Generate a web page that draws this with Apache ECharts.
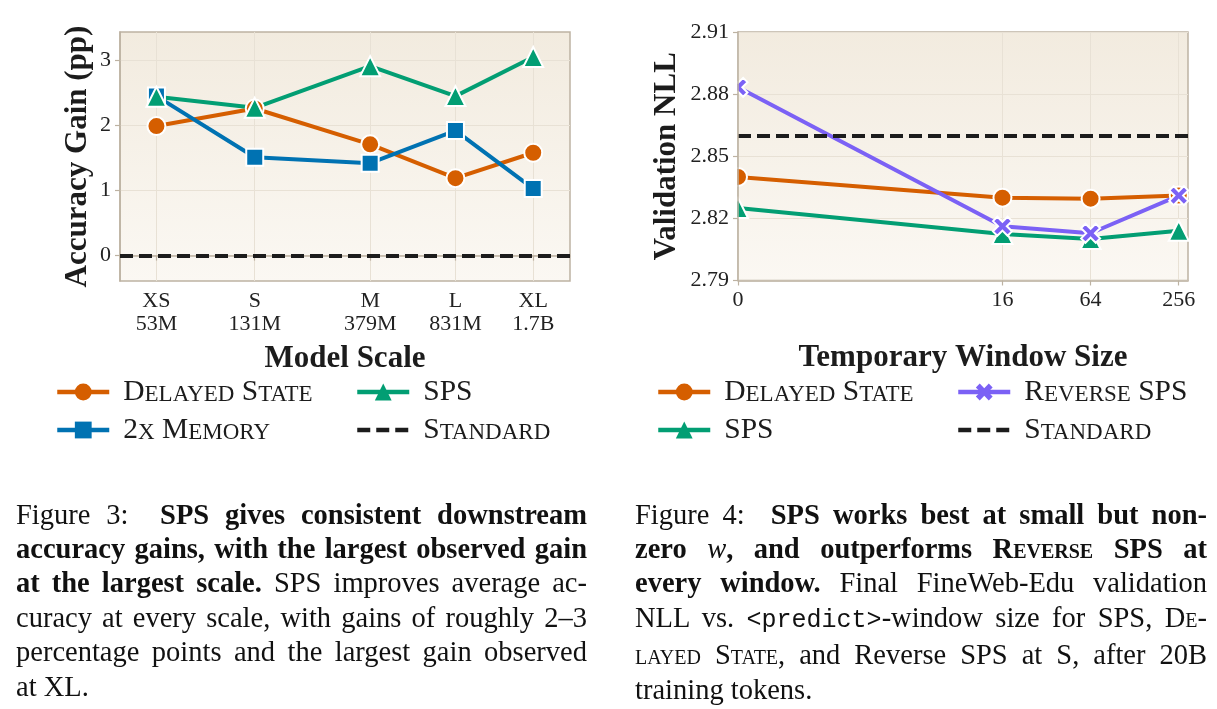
<!DOCTYPE html>
<html>
<head>
<meta charset="utf-8">
<script src="https://cdn.jsdelivr.net/npm/echarts@6/dist/echarts.min.js"></script>
<style>
html,body{margin:0;padding:0;background:#fff;width:1217px;height:709px;overflow:hidden;}
#chart{position:absolute;left:0;top:0;width:1217px;height:709px;}
.cap{position:absolute;top:497.5px;font-family:'Liberation Serif',serif;font-size:28.5px;line-height:34.4px;color:#111;}
.cap div{text-align:justify;text-align-last:justify;}
.cap div.last{text-align-last:left;}
.cap .sc{font-variant:small-caps;}
.cap .tt{font-family:'Liberation Mono',monospace;font-size:25px;}
.cap i.m{font-weight:normal;font-style:italic;}
</style>
</head>
<body>
<div id="chart"></div>
<div class="cap" style="left:16px;width:571px;">
<div>Figure 3:&nbsp; <b>SPS gives consistent downstream</b></div>
<div><b>accuracy gains, with the largest observed gain</b></div>
<div><b>at the largest scale.</b> SPS improves average ac-</div>
<div>curacy at every scale, with gains of roughly 2–3</div>
<div>percentage points and the largest gain observed</div>
<div class="last">at XL.</div>
</div>
<div class="cap" style="left:635px;width:572px;">
<div>Figure 4:&nbsp; <b>SPS works best at small but non-</b></div>
<div><b>zero <i class="m">w</i>, and outperforms <span class="sc">Reverse</span> SPS at</b></div>
<div><b>every window.</b> Final FineWeb-Edu validation</div>
<div>NLL vs. <span class="tt">&lt;predict&gt;</span>-window size for SPS, D<span class="sc">e</span>-</div>
<div><span class="sc">layed</span> S<span class="sc">tate</span>, and Reverse SPS at S, after 20B</div>
<div class="last">training tokens.</div>
</div>
<script>
// ---------- Figure 3 data ----------
const scaleCats = ['XS', 'S', 'M', 'L', 'XL'];
const scaleParamsM = [53, 131, 379, 831, 1700];
const scaleParamLabels = ['53M', '131M', '379M', '831M', '1.7B'];
const gainDelayed = [1.99, 2.26, 1.71, 1.19, 1.58];
const gainSPS = [2.44, 2.27, 2.91, 2.45, 3.05];
const gainMemory = [2.45, 1.51, 1.42, 1.92, 1.03];
const gainStandard = 0;
const gainTicks = [0, 1, 2, 3];

// ---------- Figure 4 data ----------
const windowSizes = [0, 16, 64, 256];
const windowLabels = ['0', '16', '64', '256'];
const nllDelayed = [2.840, 2.830, 2.8295, 2.831];
const nllSPS = [2.825, 2.8125, 2.810, 2.814];
const nllReverse = [2.8833, 2.8162, 2.8128, 2.831];
const nllStandard = 2.8587;
const nllTicks = [2.79, 2.82, 2.85, 2.88, 2.91];

// ---------- scale transforms (log10 for model size, symlog base 2 for window) ----------
const logScale = v => Math.log10(v);
const symlog2 = w => (w <= 1 ? 2 * w : 2 + Math.log2(w));

const C = {
  orange: '#d55e00', green: '#029e73', blue: '#0072b2', purple: '#7b61f5',
  black: '#1c1c1c', text: '#222222', frame: '#bdb2a2', grid: '#e8e1d5'
};
const FONT = "'Liberation Serif', 'Times New Roman', serif";
const xMarker = 'path://M0,2.3 L2.3,0 L5,2.7 L7.7,0 L10,2.3 L7.3,5 L10,7.7 L7.7,10 L5,7.3 L2.3,10 L0,7.7 L2.7,5 Z';
const DASH = [13, 6];
const LW = 4;

const bg = {
  type: 'linear', x: 0, y: 0, x2: 0, y2: 1,
  colorStops: [{ offset: 0, color: '#f2ebdf' }, { offset: 1, color: '#fbf8f3' }]
};

function nearestIdx(arr, v) {
  let b = 0;
  arr.forEach((a, i) => { if (Math.abs(a - v) < Math.abs(arr[b] - v)) b = i; });
  return b;
}

function smallCaps(name) {
  let out = '', run = '', kind = null;
  const flush = () => { if (run) out += '{' + kind + '|' + run + '}'; run = ''; };
  for (const ch of name) {
    const k = /[a-z]/.test(ch) ? 's' : 'b';
    if (k !== kind) { flush(); kind = k; }
    run += k === 's' ? ch.toUpperCase() : ch;
  }
  flush();
  return out;
}

function lineSeries(name, color, symbol, size, data, gi) {
  return {
    name, type: 'line', xAxisIndex: gi, yAxisIndex: gi, data,
    symbol, symbolSize: size, symbolKeepAspect: true, showAllSymbol: true,
    z: 2,
    lineStyle: { color, width: LW },
    itemStyle: { color, borderColor: '#ffffff', borderWidth: 2 },
    emphasis: { disabled: true }, animation: false
  };
}

function standardSeries(value, gi) {
  return {
    name: 'Standard', type: 'line', xAxisIndex: gi, yAxisIndex: gi, data: [],
    symbol: 'none', z: 1,
    lineStyle: { color: C.black, width: LW, type: DASH },
    itemStyle: { color: C.black },
    markLine: {
      silent: true, symbol: ['none', 'none'], animation: false,
      label: { show: false },
      lineStyle: { color: C.black, width: LW, type: DASH },
      data: [{ yAxis: value }]
    },
    animation: false
  };
}

const axisCommon = {
  axisLine: { show: true, lineStyle: { color: C.frame, width: 1.5 } },
  axisTick: { show: true, length: 5, lineStyle: { color: C.frame, width: 1.2 } },
  splitLine: { show: true, lineStyle: { color: C.grid, width: 1 } },
  nameTextStyle: { fontFamily: FONT, fontSize: 31, fontWeight: 'bold', color: C.black },
  nameLocation: 'middle'
};
const labelCommon = { fontFamily: FONT, fontSize: 22, color: C.text };

const xTicksLeft = scaleParamsM.map(logScale);
const xTicksRight = windowSizes.map(symlog2);

function legendBlock(names, left, top) {
  return {
    data: names.map(n => n === 'Standard'
      ? { name: n, itemStyle: { color: 'rgba(0,0,0,0)', borderColor: 'rgba(0,0,0,0)', borderWidth: 0 } }
      : { name: n }),
    orient: 'vertical', left, top,
    itemWidth: 52, itemHeight: 21, itemGap: 8,
    selectedMode: false,
    itemStyle: { borderWidth: 0 },
    lineStyle: { width: 4.5 },
    formatter: n => smallCaps(n),
    textStyle: {
      fontFamily: FONT, color: C.black, padding: [0, 0, 0, 9],
      rich: {
        b: { fontFamily: FONT, fontSize: 29.5, color: C.black, verticalAlign: 'bottom' },
        s: { fontFamily: FONT, fontSize: 23, color: C.black, verticalAlign: 'bottom', padding: [0, 0, 1, 0] }
      }
    }
  };
}

const option = {
  animation: false,
  backgroundColor: '#ffffff',
  grid: [
    { left: 120, top: 32, width: 450, height: 249, show: true, backgroundColor: bg, borderColor: C.frame, borderWidth: 1.5 },
    { left: 738, top: 32, width: 450, height: 248.5, show: true, backgroundColor: bg, borderColor: C.frame, borderWidth: 1.5 }
  ],
  xAxis: [
    Object.assign({}, axisCommon, {
      type: 'value', gridIndex: 0,
      min: logScale(37.9), max: logScale(2385),
      name: 'Model Scale', nameGap: 62,
      axisTick: Object.assign({}, axisCommon.axisTick, { customValues: xTicksLeft }),
      axisLabel: Object.assign({}, labelCommon, {
        customValues: xTicksLeft, margin: 9, lineHeight: 23,
        formatter: v => { const i = nearestIdx(xTicksLeft, v); return scaleCats[i] + '\n' + scaleParamLabels[i]; }
      })
    }),
    Object.assign({}, axisCommon, {
      type: 'value', gridIndex: 1,
      min: 0, max: 10.21,
      name: 'Temporary Window Size', nameGap: 62,
      axisTick: Object.assign({}, axisCommon.axisTick, { customValues: xTicksRight }),
      axisLabel: Object.assign({}, labelCommon, {
        customValues: xTicksRight, margin: 9,
        formatter: v => windowLabels[nearestIdx(xTicksRight, v)]
      })
    })
  ],
  yAxis: [
    Object.assign({}, axisCommon, {
      type: 'value', gridIndex: 0,
      min: -0.39, max: 3.435,
      name: 'Accuracy Gain (pp)', nameGap: 27,
      axisTick: Object.assign({}, axisCommon.axisTick, { customValues: gainTicks }),
      axisLabel: Object.assign({}, labelCommon, {
        customValues: gainTicks, margin: 9,
        formatter: v => String(Math.round(v))
      })
    }),
    Object.assign({}, axisCommon, {
      type: 'value', gridIndex: 1, z: 10,
      min: 2.79, max: 2.91,
      name: 'Validation NLL', nameGap: 56,
      splitLine: { show: false },
      axisTick: Object.assign({}, axisCommon.axisTick, { customValues: nllTicks }),
      axisLabel: Object.assign({}, labelCommon, {
        customValues: nllTicks, margin: 9,
        formatter: v => Number(v).toFixed(2)
      })
    }),
    // grid lines only, kept below the series
    {
      type: 'value', gridIndex: 1, min: 2.79, max: 2.91,
      axisLine: { show: false },
      axisTick: { show: false, customValues: nllTicks },
      axisLabel: { show: false, customValues: nllTicks },
      splitLine: { show: true, lineStyle: { color: C.grid, width: 1 } }
    }
  ],
  legend: [
    legendBlock(['Delayed State', '2x Memory'], 50, 372),
    legendBlock(['SPS', 'Standard'], 350, 372),
    legendBlock(['Delayed State', 'SPS'], 651, 372),
    legendBlock(['Reverse SPS', 'Standard'], 951, 372)
  ],
  graphic: [
    // clip markers that spill left of the Figure 4 plot area (as in the reference)
    { type: 'rect', z: 5, silent: true, shape: { x: 718, y: 22, width: 19.3, height: 265 }, style: { fill: '#ffffff' } }
  ],
  series: [
    standardSeries(gainStandard, 0),
    lineSeries('Delayed State', C.orange, 'circle', 18, scaleParamsM.map((p, i) => [logScale(p), gainDelayed[i]]), 0),
    lineSeries('2x Memory', C.blue, 'rect', 17, scaleParamsM.map((p, i) => [logScale(p), gainMemory[i]]), 0),
    lineSeries('SPS', C.green, 'triangle', 20, scaleParamsM.map((p, i) => [logScale(p), gainSPS[i]]), 0),

    standardSeries(nllStandard, 1),
    lineSeries('Delayed State', C.orange, 'circle', 18, windowSizes.map((w, i) => [symlog2(w), nllDelayed[i]]), 1),
    lineSeries('SPS', C.green, 'triangle', 20, windowSizes.map((w, i) => [symlog2(w), nllSPS[i]]), 1),
    lineSeries('Reverse SPS', C.purple, xMarker, 19, windowSizes.map((w, i) => [symlog2(w), nllReverse[i]]), 1)
  ]
};

const chart = echarts.init(document.getElementById('chart'), null, { renderer: 'canvas' });
chart.setOption(option);
</script>
</body>
</html>
